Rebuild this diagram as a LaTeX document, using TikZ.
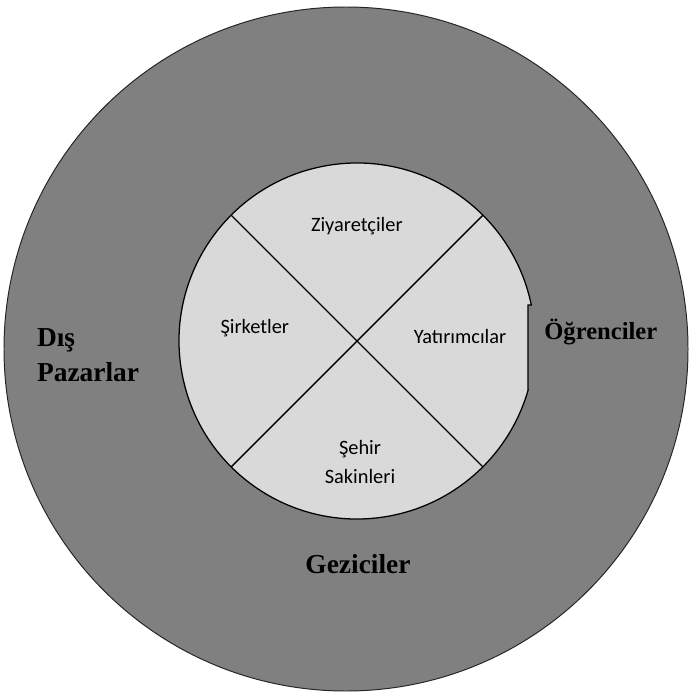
\documentclass[tikz,border=0pt]{standalone}
\usepackage{fontspec}
\usepackage{tikz}
\usetikzlibrary{calc,positioning}
\newfontfamily\segfont{Carlito}
\newfontfamily\ringfont{Liberation Serif}
\definecolor{ringgray}{HTML}{808080}
\definecolor{discgray}{HTML}{D9D9D9}
\tikzset{
  outerring/.style={draw=black!85, fill=ringgray, line width=0.7pt},
  innerdisc/.style={draw=black, fill=discgray, line width=0.9pt},
  divider/.style={draw=black, line width=1pt},
  seglabel/.style={font=\segfont\fontsize{14.5}{20.5}\selectfont, align=center,
    inner sep=0pt},
  ringlabel/.style={font=\ringfont\bfseries\fontsize{17.5}{25}\selectfont,
    align=left, inner sep=0pt},
}

\begin{document}
\begin{tikzpicture}[x=1cm, y=1cm]

\useasboundingbox (0,0) rectangle (17.25,-17.35);

%% ── Outer ring ───────────────────────────────────────────────────────────
\coordinate (outerc) at (8.65,-8.725);
\draw[outerring] (outerc) circle (8.55cm);

%% ── Inner disc (with the flat notch on the right) ────────────────────────
\coordinate (innerc) at (8.925,-8.525);
\draw[innerdisc] ($(innerc)+(11.7:4.45)$) arc[start angle=11.7, end angle=344,
  radius=4.45cm] -- (13.2,-9.75) -- (13.2,-7.625) -- cycle;

\coordinate (dtl) at ($(innerc)+(135:4.45)$);
\coordinate (dbr) at ($(innerc)+(-45:4.45)$);
\coordinate (dtr) at ($(innerc)+(45:4.45)$);
\coordinate (dbl) at ($(innerc)+(-135:4.45)$);
\draw[divider] (dtl) -- (dbr);
\draw[divider] (dtr) -- (dbl);

%% ── Segment labels ───────────────────────────────────────────────────────
\node[seglabel] (ziyaret) at (8.92,-5.65) {Ziyaretçiler};
\node[seglabel] (sirket)  at (6.37,-8.2)  {Şirketler};
\node[seglabel] (yatirim) at (11.5,-8.42) {Yatırımcılar};
\node[seglabel] (sehir)   at (9.0,-11.55) {Şehir\\Sakinleri};

%% ── Ring labels ──────────────────────────────────────────────────────────
\node[ringlabel, font=\ringfont\bfseries\fontsize{19.5}{25}\selectfont,
      anchor=north west] (dispaz) at (0.92,-8.2) {Dış\\Pazarlar};
\node[ringlabel] (ogrenci) at (15.02,-8.3)  {Öğrenciler};
\node[ringlabel, font=\ringfont\bfseries\fontsize{19.5}{25}\selectfont]
  (gezici) at (8.95,-14.1) {Geziciler};

\end{tikzpicture}
\end{document}
